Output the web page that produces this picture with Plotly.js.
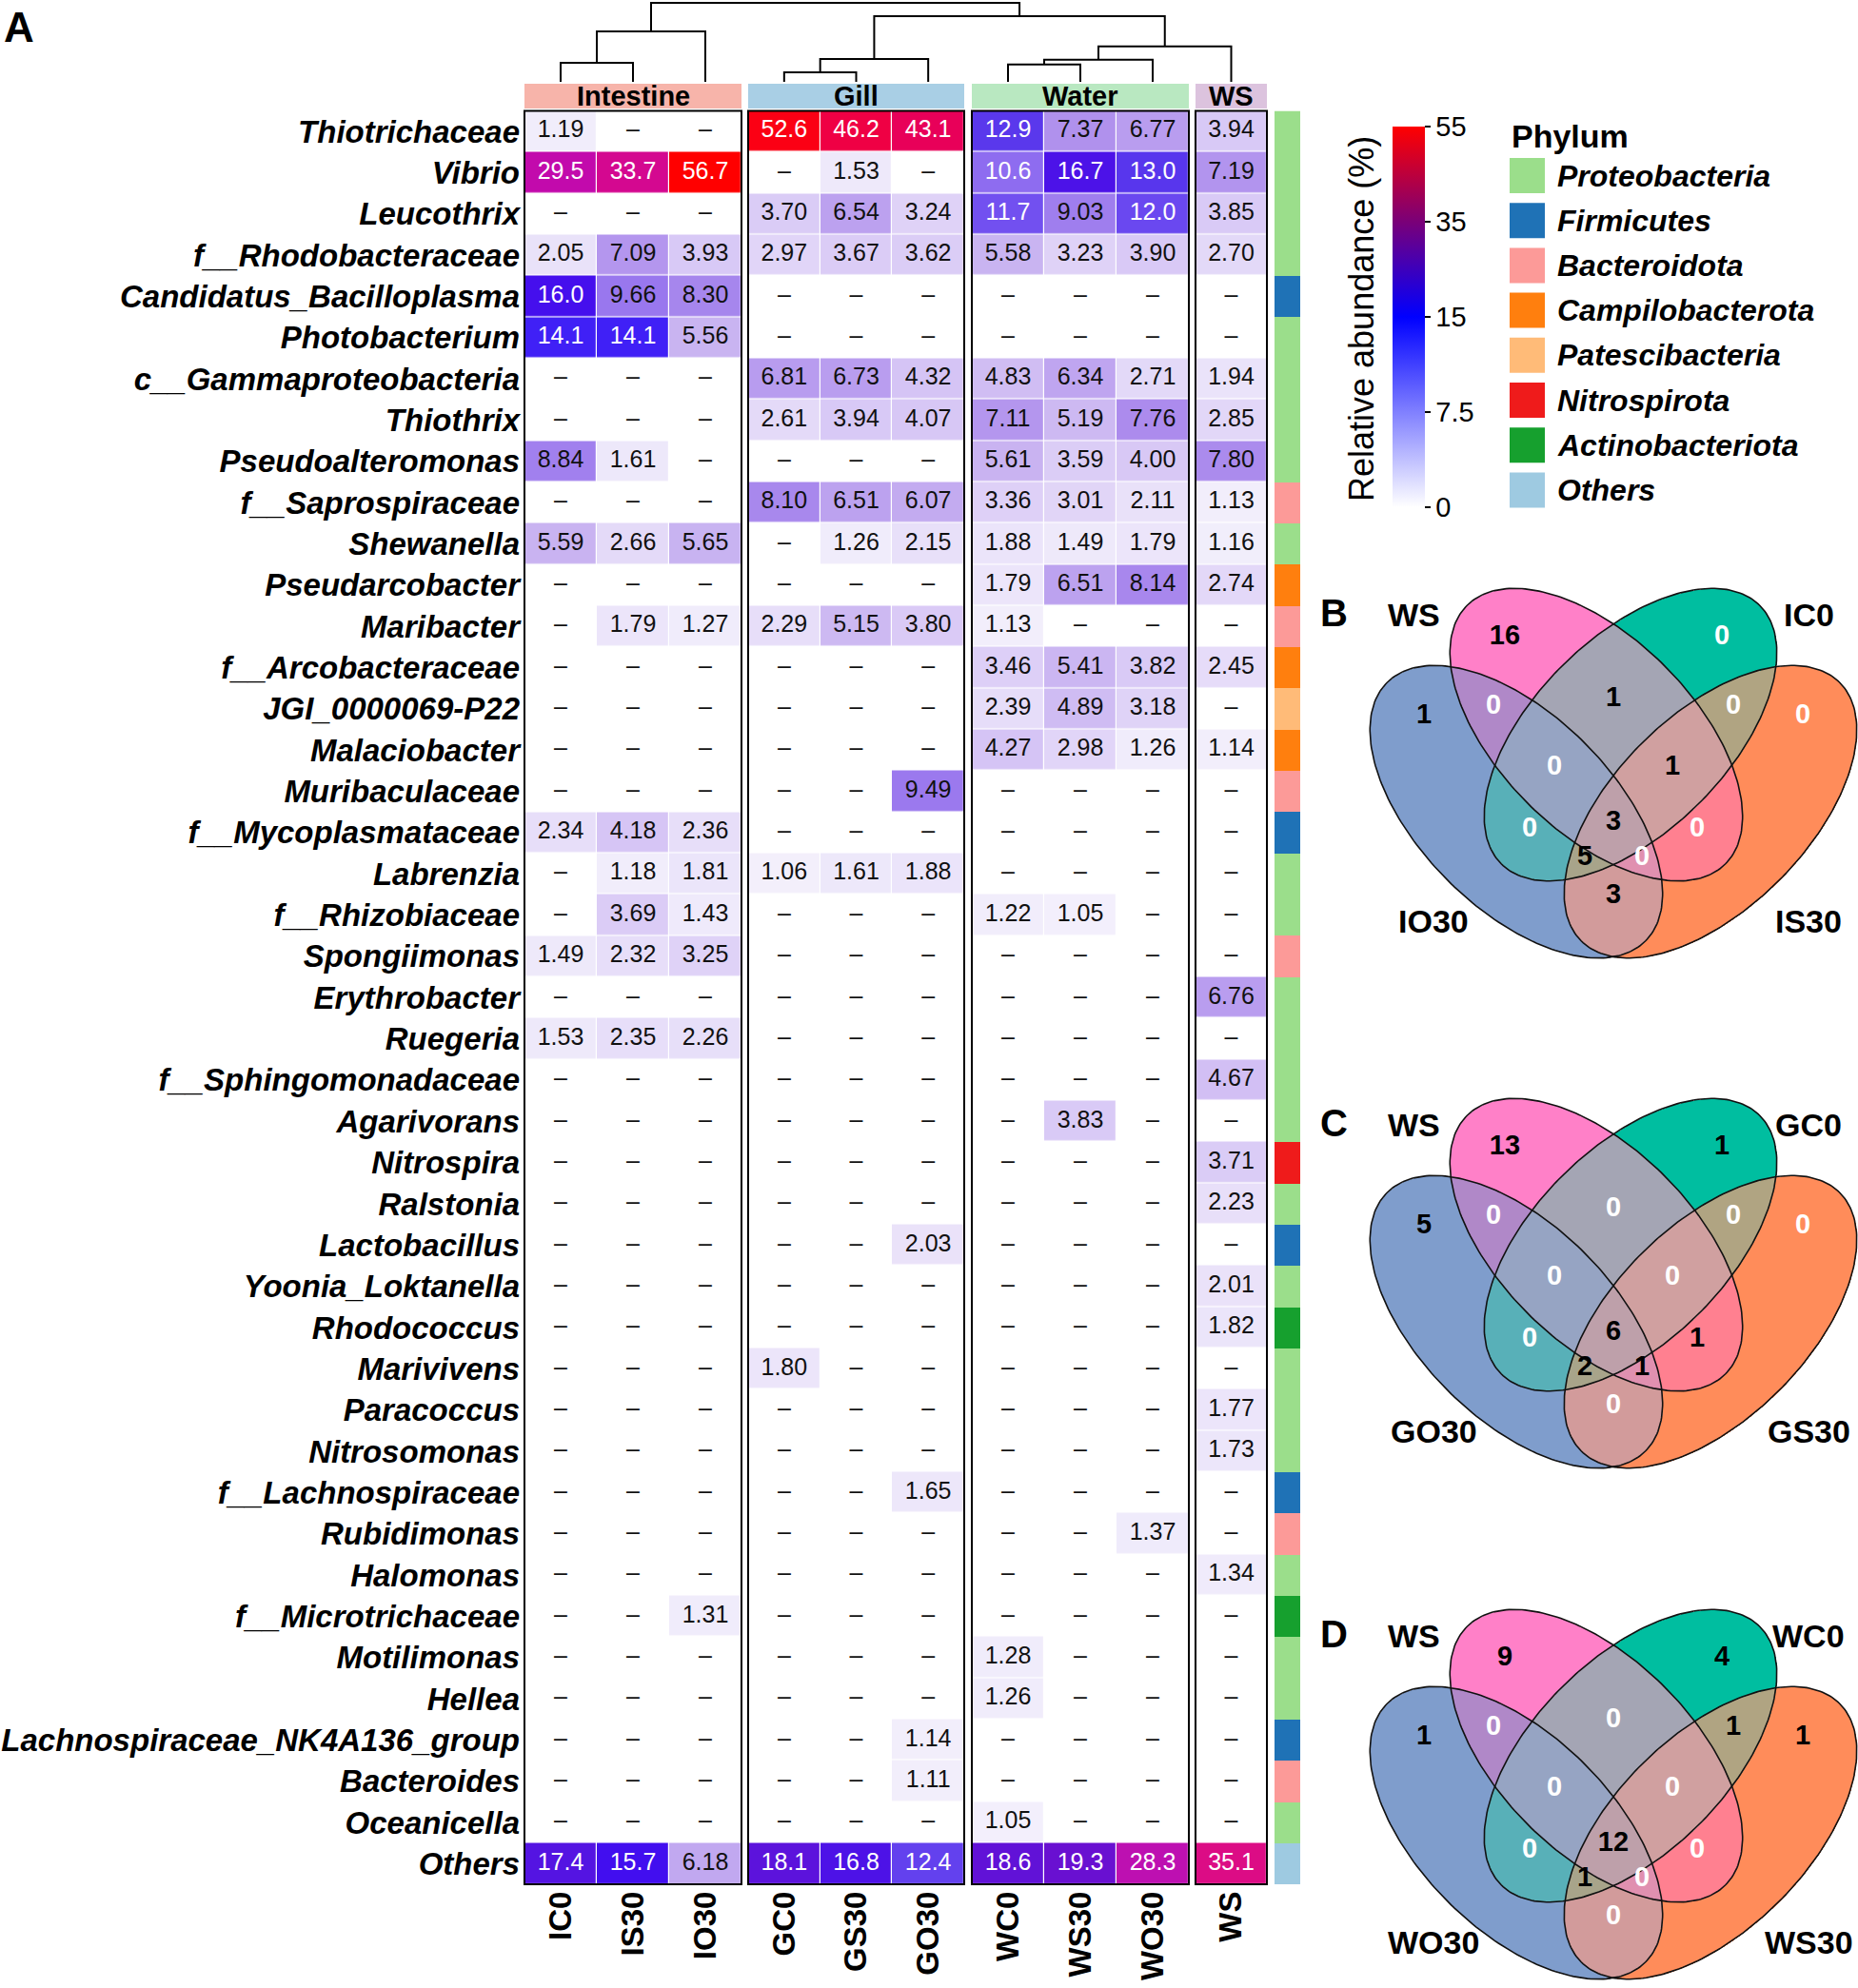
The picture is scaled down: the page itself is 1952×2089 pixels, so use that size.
<!DOCTYPE html>
<html>
<head>
<meta charset="utf-8">
<script src="https://cdn.plot.ly/plotly-3.0.1.min.js"></script>
<style>html,body{margin:0;padding:0;background:#fff;}#chart{width:1952px;height:2089px;}</style>
</head>
<body>
<div id="chart"></div>
<script>
const _ = null;
// ---------------- DATA ----------------
const taxa = ['Thiotrichaceae','Vibrio','Leucothrix','f__Rhodobacteraceae','Candidatus_Bacilloplasma','Photobacterium','c__Gammaproteobacteria','Thiothrix','Pseudoalteromonas','f__Saprospiraceae','Shewanella','Pseudarcobacter','Maribacter','f__Arcobacteraceae','JGI_0000069-P22','Malaciobacter','Muribaculaceae','f__Mycoplasmataceae','Labrenzia','f__Rhizobiaceae','Spongiimonas','Erythrobacter','Ruegeria','f__Sphingomonadaceae','Agarivorans','Nitrospira','Ralstonia','Lactobacillus','Yoonia_Loktanella','Rhodococcus','Marivivens','Paracoccus','Nitrosomonas','f__Lachnospiraceae','Rubidimonas','Halomonas','f__Microtrichaceae','Motilimonas','Hellea','Lachnospiraceae_NK4A136_group','Bacteroides','Oceanicella','Others'];

const groups = ['Intestine','Gill','Water','WS'];
const groupSamples = [['IC0','IS30','IO30'],['GC0','GS30','GO30'],['WC0','WS30','WO30'],['WS']];

// relative abundance (%) per sample, in taxa order (null = shown as "–")
const IC0  = [1.19,29.5,_,2.05,16.0,14.1,_,_,8.84,_, 5.59,_,_,_,_,_,_,2.34,_,_, 1.49,_,1.53,_,_,_,_,_,_,_, _,_,_,_,_,_,_,_,_,_, _,_,17.4];
const IS30 = [_,33.7,_,7.09,9.66,14.1,_,_,1.61,_, 2.66,_,1.79,_,_,_,_,4.18,1.18,3.69, 2.32,_,2.35,_,_,_,_,_,_,_, _,_,_,_,_,_,_,_,_,_, _,_,15.7];
const IO30 = [_,56.7,_,3.93,8.30,5.56,_,_,_,_, 5.65,_,1.27,_,_,_,_,2.36,1.81,1.43, 3.25,_,2.26,_,_,_,_,_,_,_, _,_,_,_,_,_,1.31,_,_,_, _,_,6.18];
const GC0  = [52.6,_,3.70,2.97,_,_,6.81,2.61,_,8.10, _,_,2.29,_,_,_,_,_,1.06,_, _,_,_,_,_,_,_,_,_,_, 1.80,_,_,_,_,_,_,_,_,_, _,_,18.1];
const GS30 = [46.2,1.53,6.54,3.67,_,_,6.73,3.94,_,6.51, 1.26,_,5.15,_,_,_,_,_,1.61,_, _,_,_,_,_,_,_,_,_,_, _,_,_,_,_,_,_,_,_,_, _,_,16.8];
const GO30 = [43.1,_,3.24,3.62,_,_,4.32,4.07,_,6.07, 2.15,_,3.80,_,_,_,9.49,_,1.88,_, _,_,_,_,_,_,_,2.03,_,_, _,_,_,1.65,_,_,_,_,_,1.14, 1.11,_,12.4];
const WC0  = [12.9,10.6,11.7,5.58,_,_,4.83,7.11,5.61,3.36, 1.88,1.79,1.13,3.46,2.39,4.27,_,_,_,1.22, _,_,_,_,_,_,_,_,_,_, _,_,_,_,_,_,_,1.28,1.26,_, _,1.05,18.6];
const WS30 = [7.37,16.7,9.03,3.23,_,_,6.34,5.19,3.59,3.01, 1.49,6.51,_,5.41,4.89,2.98,_,_,_,1.05, _,_,_,_,3.83,_,_,_,_,_, _,_,_,_,_,_,_,_,_,_, _,_,19.3];
const WO30 = [6.77,13.0,12.0,3.90,_,_,2.71,7.76,4.00,2.11, 1.79,8.14,_,3.82,3.18,1.26,_,_,_,_, _,_,_,_,_,_,_,_,_,_, _,_,_,_,1.37,_,_,_,_,_, _,_,28.3];
const WS   = [3.94,7.19,3.85,2.70,_,_,1.94,2.85,7.80,1.13, 1.16,2.74,_,2.45,_,1.14,_,_,_,_, _,6.76,_,4.67,_,3.71,2.23,_,2.01,1.82, _,1.77,1.73,_,_,1.34,_,_,_,_, _,_,35.1];
const colData = {IC0, IS30, IO30, GC0, GS30, GO30, WC0, WS30, WO30, WS};

const phyla = ['Proteobacteria','Firmicutes','Bacteroidota','Campilobacterota','Patescibacteria','Nitrospirota','Actinobacteriota','Others'];
const taxonPhylum = ['Proteobacteria','Proteobacteria','Proteobacteria','Proteobacteria','Firmicutes','Proteobacteria','Proteobacteria','Proteobacteria','Proteobacteria','Bacteroidota',
  'Proteobacteria','Campilobacterota','Bacteroidota','Campilobacterota','Patescibacteria','Campilobacterota','Bacteroidota','Firmicutes','Proteobacteria','Proteobacteria',
  'Bacteroidota','Proteobacteria','Proteobacteria','Proteobacteria','Proteobacteria','Nitrospirota','Proteobacteria','Firmicutes','Proteobacteria','Actinobacteriota',
  'Proteobacteria','Proteobacteria','Proteobacteria','Firmicutes','Bacteroidota','Proteobacteria','Actinobacteriota','Proteobacteria','Proteobacteria','Firmicutes',
  'Bacteroidota','Proteobacteria','Others'];

// colour legend breaks
const colorBreaks = [0, 7.5, 15, 35, 55];
const colorBreakLabels = ['0', '7.5', '15', '35', '55'];

// dendrogram: [left, right, merge height (relative)]
const dendroTree = [[['IC0','IS30',0.24],'IO30',0.64],[[['GC0','GS30',0.12],'GO30',0.29],[[['WC0','WS30',0.22],'WO30',0.28],'WS',0.45],0.83],1.0];

// Venn diagrams: sets in order [lower-left, upper-left, upper-right, lower-right]
const regionKeys = ['P','G','B','O','BP','PG','GO','BPG','PGO','BG','BPGO','PO','BGO','BPO','BO'];
const vennBSets = ['IO30','WS','IC0','IS30'];
const vennBCounts = [16,0,1,0,0,1,0,0,1,0,3,0,5,0,3];
const vennCSets = ['GO30','WS','GC0','GS30'];
const vennCCounts = [13,1,5,0,0,0,0,0,0,0,6,1,2,1,0];
const vennDSets = ['WO30','WS','WC0','WS30'];
const vennDCounts = [9,4,1,1,0,0,1,0,0,0,12,0,1,0,0];

// ---------------- STYLE / GEOMETRY ----------------
const W = 1952, H = 2089;
const FONT = 'Liberation Sans, Arial, Helvetica, sans-serif';
const fx = p => p / W, fy = p => 1 - p / H;
const rowTop = 116.5, rowBottom = 1980;
const blockPx = [[551,779],[786,1013],[1021,1249],[1256,1331]];
const phylumPx = [1339,1366];
const headerPx = [88,114];
const headerColors = ['#f7b4aa','#a9cfe5','#b9e8c1','#dcc3de'];
const phylumColors = ['#9bde8b','#1f72b6','#fc9a98','#ff7f0e','#ffbb78','#ef1b1b','#16a02e','#9ecae1'];
const dendBase = 86, dendTop = 3;

const cellScale = [[0,'#ffffff'],[0.04,'#f1edfb'],[0.125,'#dacbf6'],[0.19,'#c8b2f1'],[0.25,'#ae8eed'],[0.32,'#9a78ee'],[0.353,'#8e6cf0'],[0.40,'#6a48f0'],[0.43,'#5a38ec'],[0.47,'#4020f6'],[0.5,'#3a0cf5'],[0.53,'#5414e2'],[0.555,'#6a10d0'],[0.67,'#c010b0'],[0.70,'#c400a6'],[0.75,'#dc0c86'],[0.85,'#e8005a'],[0.93,'#f6002e'],[1,'#ff0000']];
const barScale = [[0,'#ffffff'],[0.25,'#8080ff'],[0.5,'#0000ff'],[0.75,'#7a0078'],[1,'#ff0000']];

function toT(v) {
  if (v == null) return null;
  const n = colorBreaks.length - 1;
  for (let i = 1; i <= n; i++) {
    if (v <= colorBreaks[i]) return (i - 1 + (v - colorBreaks[i-1]) / (colorBreaks[i] - colorBreaks[i-1])) / n;
  }
  return 1;
}

const data = [];
const shapes = [];
const annotations = [];
const axisIds = ['x','x2','x3','x4'];
const layout = {
  width: W, height: H, margin: {l:0, r:0, t:0, b:0},
  paper_bgcolor: '#ffffff', plot_bgcolor: 'rgba(0,0,0,0)', showlegend: false,
  font: {family: FONT, color: '#000'}
};
const yDomain = [fy(rowBottom), fy(rowTop)];
layout.yaxis = {domain: yDomain, anchor: 'x', type: 'category', range: [taxa.length - 0.5, -0.5],
  tickmode: 'array', tickvals: taxa, ticktext: taxa, ticks: '', showgrid: false, zeroline: false, showline: false,
  ticklabelstandoff: 4, tickfont: {family: FONT, size: 33, weight: 'bold', style: 'italic', color: '#000'}, fixedrange: true};

const colX = {};
groupSamples.forEach((cols, g) => {
  const b = blockPx[g];
  const cw = (b[1] - b[0]) / cols.length;
  cols.forEach((c, i) => { colX[c] = b[0] + (i + 0.5) * cw; });
  const xa = axisIds[g];
  const key = 'xaxis' + (g ? g + 1 : '');
  layout[key] = {domain: [fx(b[0]), fx(b[1])], anchor: 'y', type: 'category', range: [-0.5, cols.length - 0.5],
    tickmode: 'array', tickvals: cols, ticktext: cols, tickangle: -90, ticks: '', showgrid: false, zeroline: false,
    showline: false, ticklabelstandoff: 0, tickfont: {family: FONT, size: 33, weight: 'bold', color: '#000'}, fixedrange: true};
  data.push({type: 'heatmap', x: cols, y: taxa, z: taxa.map((t, r) => cols.map(c => toT(colData[c][r]))),
    xaxis: xa, yaxis: 'y', colorscale: cellScale, zmin: 0, zmax: 1, showscale: false, xgap: 1.2, ygap: 1.2, hoverinfo: 'skip'});
  const tx = [], ty = [], tt = [], tc = [];
  cols.forEach(c => taxa.forEach((t, r) => {
    const v = colData[c][r];
    tx.push(c); ty.push(t);
    tt.push(v == null ? '–' : v.toPrecision(3));
    tc.push(v != null && v >= 10 ? '#ffffff' : '#111111');
  }));
  data.push({type: 'scatter', mode: 'text', x: tx, y: ty, text: tt, textfont: {family: FONT, size: 25, color: tc},
    xaxis: xa, yaxis: 'y', hoverinfo: 'skip', cliponaxis: false});
  // block border
  shapes.push({type: 'rect', xref: 'paper', yref: 'paper', x0: fx(b[0]), x1: fx(b[1]), y0: fy(rowBottom), y1: fy(rowTop),
    line: {color: '#000', width: 2}, fillcolor: 'rgba(0,0,0,0)'});
  // header
  shapes.push({type: 'rect', xref: 'paper', yref: 'paper', x0: fx(b[0]), x1: fx(b[1]), y0: fy(headerPx[1]), y1: fy(headerPx[0]),
    line: {width: 0}, fillcolor: headerColors[g]});
  annotations.push({xref: 'paper', yref: 'paper', x: fx((b[0] + b[1]) / 2), y: fy((headerPx[0] + headerPx[1]) / 2),
    text: groups[g], showarrow: false, xanchor: 'center', yanchor: 'middle', font: {family: FONT, size: 29, weight: 'bold', color: '#000'}});
});

// phylum annotation column
layout.xaxis5 = {domain: [fx(phylumPx[0]), fx(phylumPx[1])], anchor: 'y', type: 'category', showticklabels: false,
  ticks: '', showgrid: false, zeroline: false, fixedrange: true};
const phylumScale = [];
phylumColors.forEach((c, i) => { phylumScale.push([i / phylumColors.length, c]); phylumScale.push([(i + 1) / phylumColors.length, c]); });
data.push({type: 'heatmap', x: ['Phylum'], y: taxa, z: taxa.map((t, r) => [phyla.indexOf(taxonPhylum[r])]),
  xaxis: 'x5', yaxis: 'y', colorscale: phylumScale, zmin: -0.5, zmax: phyla.length - 0.5, showscale: false, hoverinfo: 'skip'});

// overlay pixel axes
layout.xaxis6 = {domain: [0, 1], anchor: 'y6', range: [0, W], visible: false, fixedrange: true};
layout.yaxis6 = {domain: [0, 1], anchor: 'x6', range: [H, 0], visible: false, fixedrange: true};

// dendrogram
const dx = [], dy = [];
const hy = h => dendBase - h * (dendBase - dendTop);
function walk(node) {
  if (typeof node === 'string') return {x: colX[node], h: 0};
  const L = walk(node[0]), R = walk(node[1]), h = node[2];
  dx.push(L.x, L.x, R.x, R.x, null);
  dy.push(hy(L.h), hy(h), hy(h), hy(R.h), null);
  return {x: (L.x + R.x) / 2, h: h};
}
walk(dendroTree);
data.push({type: 'scatter', mode: 'lines', x: dx, y: dy, xaxis: 'x6', yaxis: 'y6', line: {color: '#000', width: 2}, hoverinfo: 'skip', cliponaxis: false});

// colour bar (legend of the heatmap)
data.push({type: 'scatter', mode: 'markers', x: [-100], y: [-100], xaxis: 'x6', yaxis: 'y6', hoverinfo: 'skip',
  marker: {color: [0], cmin: 0, cmax: 1, colorscale: barScale, showscale: true, size: 1,
    colorbar: {x: fx(1463), xanchor: 'left', xref: 'paper', y: fy(333), yanchor: 'middle', yref: 'paper',
      len: 400, lenmode: 'pixels', thickness: 34, thicknessmode: 'pixels', xpad: 0, ypad: 0, outlinewidth: 0,
      tickmode: 'array', tickvals: colorBreaks.map(toT), ticktext: colorBreakLabels, ticks: 'outside', ticklen: 6,
      tickwidth: 1.5, tickcolor: '#000', tickfont: {family: FONT, size: 29, color: '#000'}}}});
annotations.push({xref: 'paper', yref: 'paper', x: fx(1431), y: fy(335), text: 'Relative abundance (%)', textangle: -90,
  showarrow: false, xanchor: 'center', yanchor: 'middle', font: {family: FONT, size: 36, color: '#000'}});

// Phylum legend
annotations.push({xref: 'paper', yref: 'paper', x: fx(1586), y: fy(143), text: 'Phylum', showarrow: false,
  xanchor: 'left', yanchor: 'middle', font: {family: FONT, size: 34, weight: 'bold', color: '#000'}});
phyla.forEach((p, k) => {
  const top = 166 + k * 47.2;
  shapes.push({type: 'rect', xref: 'paper', yref: 'paper', x0: fx(1586), x1: fx(1623), y0: fy(top + 37), y1: fy(top),
    line: {width: 0}, fillcolor: phylumColors[k]});
  annotations.push({xref: 'paper', yref: 'paper', x: fx(1634), y: fy(top + 18.5), text: p, showarrow: false,
    xanchor: 'left', yanchor: 'middle', font: {family: FONT, size: 32, weight: 'bold', style: 'italic', color: '#000'}});
});

// Venn diagrams
const EA = 192, EB = 102;
const ellipseSpec = [{dx: -102, dy: 73, rot: 45}, {dx: -18, dy: -8, rot: 45}, {dx: 18, dy: -8, rot: -45}, {dx: 102, dy: 73, rot: -45}];
const regionOffset = {P:[-114,-110], G:[114,-110], B:[-199,-27], O:[199,-27], BP:[-126,-37], PG:[0,-45], GO:[126,-37],
  BPG:[-62,27], PGO:[62,27], BG:[-88,92], BPGO:[0,85], PO:[88,92], BGO:[-30,122], BPO:[30,122], BO:[0,162]};
const regionColor = {B:'#7f9dcc', P:'#ff80c8', G:'#00bea0', O:'#ff8c5a', BP:'#b088c8', PG:'#a4a5b4', GO:'#b0a482',
  BPG:'#96a4c3', PGO:'#d0a0a0', BG:'#58b0b8', PO:'#ff8090', BPGO:'#bea0aa', BGO:'#a8a48a', BPO:'#e090b0', BO:'#d29b9b'};
const setLabelOffset = [[-189,188],[-210,-134],[205,-134],[205,188]];
const bitOf = {B: 1, P: 2, G: 4, O: 8};
const maskColor = new Array(16).fill('#ffffff');
Object.keys(regionColor).forEach(k => { let m = 0; for (const ch of k) m |= bitOf[ch]; maskColor[m] = regionColor[k]; });
const regionScale = [];
for (let m = 1; m <= 15; m++) { regionScale.push([(m - 1) / 15, maskColor[m]]); regionScale.push([m / 15, maskColor[m]]); }

function buildVenn(letter, cx, cy, sets, counts) {
  const ells = ellipseSpec.map(e => ({cx: cx + e.dx, cy: cy + e.dy, phi: e.rot * Math.PI / 180}));
  const x0 = 1428, nx = 524, y0 = cy - 178, ny = 414;
  const z = [];
  for (let j = 0; j < ny; j++) {
    const row = new Array(nx);
    const y = y0 + j;
    for (let i = 0; i < nx; i++) {
      const x = x0 + i;
      let m = 0;
      for (let k = 0; k < 4; k++) {
        const e = ells[k];
        const ddx = x - e.cx, ddy = y - e.cy;
        const u = ddx * Math.cos(e.phi) + ddy * Math.sin(e.phi);
        const v = -ddx * Math.sin(e.phi) + ddy * Math.cos(e.phi);
        if (u * u / (EA * EA) + v * v / (EB * EB) <= 1) m |= (1 << k);
      }
      row[i] = m ? m : null;
    }
    z.push(row);
  }
  data.push({type: 'heatmap', z: z, x0: x0, dx: 1, y0: y0, dy: 1, xaxis: 'x6', yaxis: 'y6', colorscale: regionScale,
    zmin: 0.5, zmax: 15.5, showscale: false, hoverinfo: 'skip', zsmooth: false});
  ells.forEach(e => {
    const xs = [], ys = [];
    for (let s = 0; s <= 240; s++) {
      const t = s / 240 * 2 * Math.PI;
      xs.push(e.cx + EA * Math.cos(t) * Math.cos(e.phi) - EB * Math.sin(t) * Math.sin(e.phi));
      ys.push(e.cy + EA * Math.cos(t) * Math.sin(e.phi) + EB * Math.sin(t) * Math.cos(e.phi));
    }
    data.push({type: 'scatter', mode: 'lines', x: xs, y: ys, xaxis: 'x6', yaxis: 'y6', line: {color: '#111', width: 1.6}, hoverinfo: 'skip', cliponaxis: false});
  });
  const tx = [], ty = [], tt = [], tc = [];
  regionKeys.forEach((k, i) => {
    tx.push(cx + regionOffset[k][0]); ty.push(cy + regionOffset[k][1]);
    tt.push(String(counts[i])); tc.push(counts[i] === 0 ? '#ffffff' : '#000000');
  });
  data.push({type: 'scatter', mode: 'text', x: tx, y: ty, text: tt, xaxis: 'x6', yaxis: 'y6', hoverinfo: 'skip',
    textfont: {family: FONT, size: 29, weight: 'bold', color: tc}, cliponaxis: false});
  sets.forEach((s, k) => {
    annotations.push({xref: 'paper', yref: 'paper', x: fx(cx + setLabelOffset[k][0]), y: fy(cy + setLabelOffset[k][1]),
      text: s, showarrow: false, xanchor: 'center', yanchor: 'middle', font: {family: FONT, size: 34, weight: 'bold', color: '#000'}});
  });
  annotations.push({xref: 'paper', yref: 'paper', x: fx(1401), y: fy(cy - 136), text: letter, showarrow: false,
    xanchor: 'center', yanchor: 'middle', font: {family: FONT, size: 40, weight: 'bold', color: '#000'}});
}
buildVenn('B', 1695, 780, vennBSets, vennBCounts);
buildVenn('C', 1695, 1316, vennCSets, vennCCounts);
buildVenn('D', 1695, 1853, vennDSets, vennDCounts);

annotations.push({xref: 'paper', yref: 'paper', x: fx(2), y: fy(29), text: 'A', showarrow: false,
  xanchor: 'left', yanchor: 'middle', font: {family: FONT, size: 44, weight: 'bold', color: '#000'}});

layout.shapes = shapes;
layout.annotations = annotations;
Plotly.newPlot('chart', data, layout, {staticPlot: true, displayModeBar: false});
</script>
</body>
</html>
